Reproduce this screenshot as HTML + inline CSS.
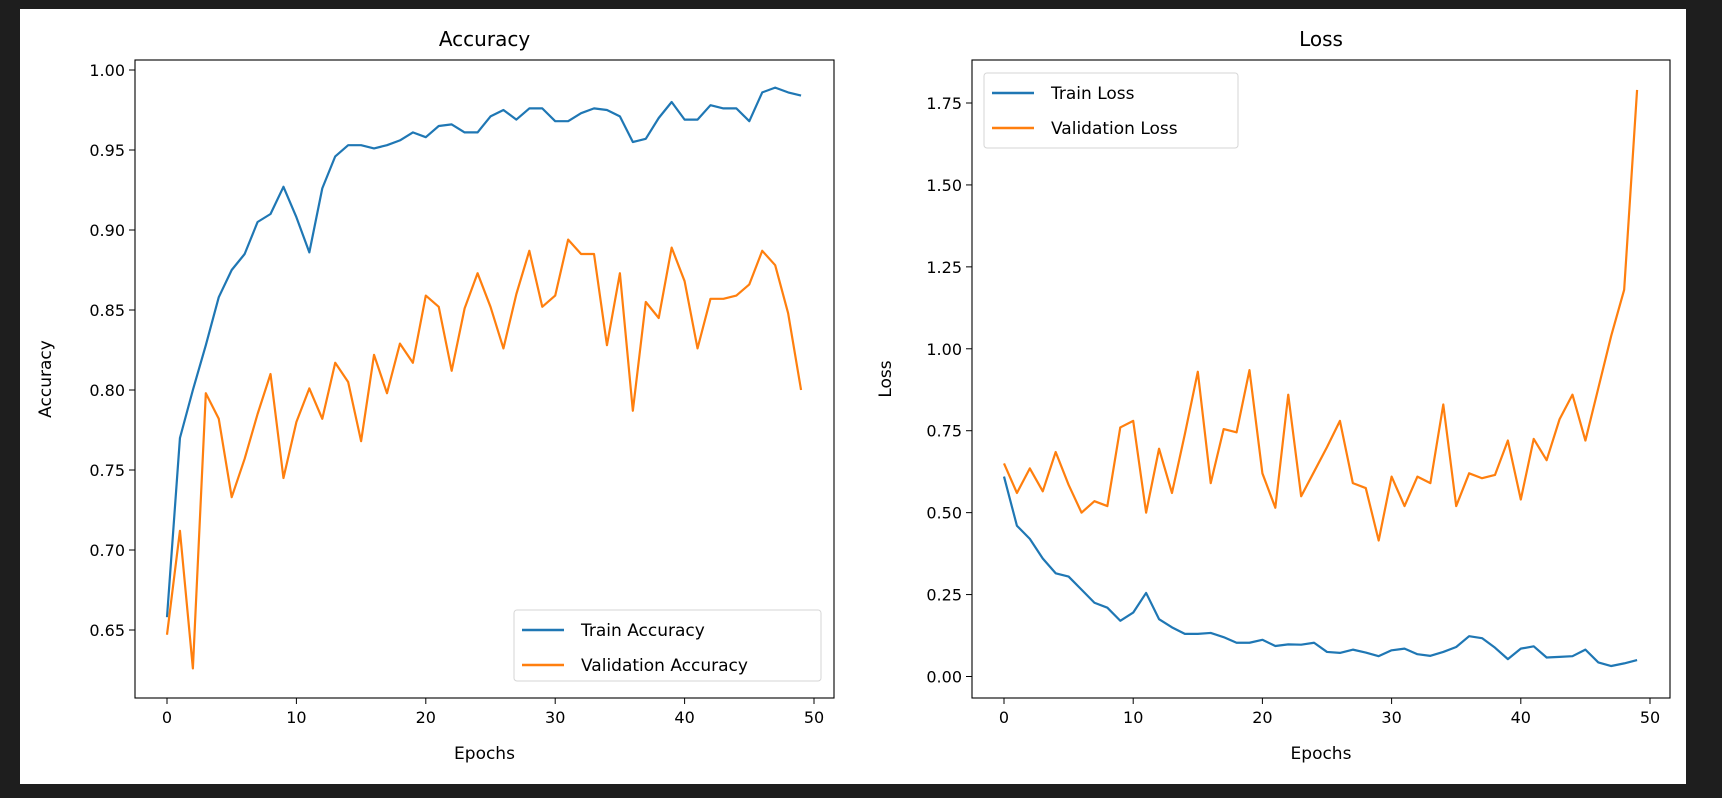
<!DOCTYPE html>
<html><head><meta charset="utf-8"><style>
html,body{margin:0;padding:0;background:#1e1e1e;width:1722px;height:798px;overflow:hidden}
svg{display:block;font-family:"DejaVu Sans","Liberation Sans",sans-serif}
</style></head><body>
<svg id="chart" width="1722" height="798" viewBox="0 0 1722 798" xmlns="http://www.w3.org/2000/svg">
<rect x="20" y="9" width="1666" height="775" fill="#ffffff"/>
<g id="g"></g>
</svg>
<script>
const epochs = Array.from({length:50},(_,i)=>i);
const trainAcc = [0.658,0.770,0.800,0.828,0.858,0.875,0.885,0.905,0.910,0.927,0.908,0.886,0.926,0.946,0.953,0.953,0.951,0.953,0.956,0.961,0.958,0.965,0.966,0.961,0.961,0.971,0.975,0.969,0.976,0.976,0.968,0.968,0.973,0.976,0.975,0.971,0.955,0.957,0.970,0.980,0.969,0.969,0.978,0.976,0.976,0.968,0.986,0.989,0.986,0.984];
const valAcc = [0.647,0.712,0.626,0.798,0.782,0.733,0.757,0.785,0.810,0.745,0.780,0.801,0.782,0.817,0.805,0.768,0.822,0.798,0.829,0.817,0.859,0.852,0.812,0.851,0.873,0.852,0.826,0.860,0.887,0.852,0.859,0.894,0.885,0.885,0.828,0.873,0.787,0.855,0.845,0.889,0.868,0.826,0.857,0.857,0.859,0.866,0.887,0.878,0.848,0.800];
const trainLoss = [0.61,0.46,0.42,0.36,0.315,0.305,0.265,0.225,0.21,0.17,0.195,0.255,0.175,0.15,0.13,0.13,0.133,0.12,0.103,0.103,0.112,0.093,0.098,0.097,0.103,0.075,0.072,0.082,0.073,0.062,0.08,0.085,0.068,0.063,0.075,0.09,0.123,0.117,0.088,0.053,0.085,0.092,0.058,0.06,0.062,0.082,0.043,0.032,0.04,0.05];
const valLoss = [0.65,0.56,0.635,0.565,0.685,0.585,0.5,0.535,0.52,0.76,0.78,0.5,0.695,0.56,0.74,0.93,0.59,0.755,0.745,0.935,0.62,0.515,0.86,0.55,0.625,0.7,0.78,0.59,0.575,0.415,0.61,0.52,0.61,0.59,0.83,0.52,0.62,0.605,0.615,0.72,0.54,0.725,0.66,0.785,0.86,0.72,0.88,1.04,1.18,1.79];
const xTicks = [0,10,20,30,40,50];
const accTicks = [0.65,0.70,0.75,0.80,0.85,0.90,0.95,1.00];
const lossTicks = [0,0.25,0.5,0.75,1.0,1.25,1.5,1.75];

const NS="http://www.w3.org/2000/svg", G=document.getElementById('g');
function mk(tag,attrs,parent,text){const e=document.createElementNS(NS,tag);for(const k in attrs)e.setAttribute(k,attrs[k]);if(text!==undefined)e.textContent=text;(parent||G).appendChild(e);return e;}

function panel(o){
  const sx=v=>o.x0+(v-0)*(o.x50-o.x0)/50;
  const sy=v=>o.yA+(v-o.vA)*(o.yB-o.yA)/(o.vB-o.vA);
  const box=mk('rect',{x:o.L,y:o.T,width:o.R-o.L,height:o.B-o.T,fill:'none',stroke:'#000','stroke-width':1.1});
  
  
  xTicks.forEach(t=>{
    const x=sx(t);
    const tk=mk('line',{x1:x,x2:x,y1:o.B,y2:o.B+6,stroke:'#000','stroke-width':1});
    
    
    const lb=mk('text',{x:x,y:o.B+25,'text-anchor':'middle','font-size':16,fill:'#000'},G,String(t));
    
    
  });
  o.ticks.forEach(t=>{
    const y=sy(t);
    const tk=mk('line',{x1:o.L-6,x2:o.L,y1:y,y2:y,stroke:'#000','stroke-width':1});
    
    
    const lb=mk('text',{x:o.L-10,y:y+6,'text-anchor':'end','font-size':16,fill:'#000'},G,t.toFixed(2));
    
    
  });
  const ti=mk('text',{x:(o.L+o.R)/2,y:o.T-14,'text-anchor':'middle','font-size':20,fill:'#000'},G,o.title);
  
  
  const xl=mk('text',{x:(o.L+o.R)/2,y:o.B+61,'text-anchor':'middle','font-size':17,fill:'#000'},G,'Epochs');
  
  
  const yx=o.L-o.ylOff, yy=(o.T+o.B)/2;
  const yl=mk('text',{x:yx,y:yy,'text-anchor':'middle','font-size':17,fill:'#000',transform:`rotate(-90 ${yx} ${yy})`},G,o.ylabel);
  
  
  o.series.forEach(s=>{
    const d=s.data.map((v,i)=>(i?'L':'M')+sx(epochs[i]).toFixed(2)+','+sy(v).toFixed(2)).join(' ');
    const p=mk('path',{d:d,fill:'none',stroke:s.color,'stroke-width':2.2,'stroke-linejoin':'round'});
    
    
  });
  const lg=mk('g',{});
  
  
  mk('rect',{x:o.lg.x,y:o.lg.y,width:o.lg.w,height:o.lg.h,rx:3,fill:'#fff',stroke:'#d6d6d6','stroke-width':1},lg);
  o.series.forEach((s,i)=>{
    const y=o.lg.y+20+i*35;
    const ln=mk('line',{x1:o.lg.x+8,x2:o.lg.x+50,y1:y,y2:y,stroke:s.color,'stroke-width':2.4},lg);
    
    
    const tx=mk('text',{x:o.lg.x+67,y:y+6,'font-size':17,fill:'#000'},lg,s.label);
    
    
  });
}
panel({key:'accuracy',L:135,R:834,T:60,B:698,x0:167,x50:814,vA:1.0,yA:70,vB:0.65,yB:630,ticks:accTicks,
  title:'Accuracy',ylabel:'Accuracy',ylOff:84,
  series:[{name:'train-accuracy-line',label:'Train Accuracy',color:'#1f77b4',data:trainAcc},
          {name:'validation-accuracy-line',label:'Validation Accuracy',color:'#ff7f0e',data:valAcc}],
  lg:{x:514,y:610,w:307,h:71}});
panel({key:'loss',L:972,R:1670,T:60,B:698,x0:1004,x50:1650,vA:0,yA:676.5,vB:1.75,yB:103,ticks:lossTicks,
  title:'Loss',ylabel:'Loss',ylOff:81,
  series:[{name:'train-loss-line',label:'Train Loss',color:'#1f77b4',data:trainLoss},
          {name:'validation-loss-line',label:'Validation Loss',color:'#ff7f0e',data:valLoss}],
  lg:{x:984,y:73,w:254,h:75}});
</script>
</body></html>
